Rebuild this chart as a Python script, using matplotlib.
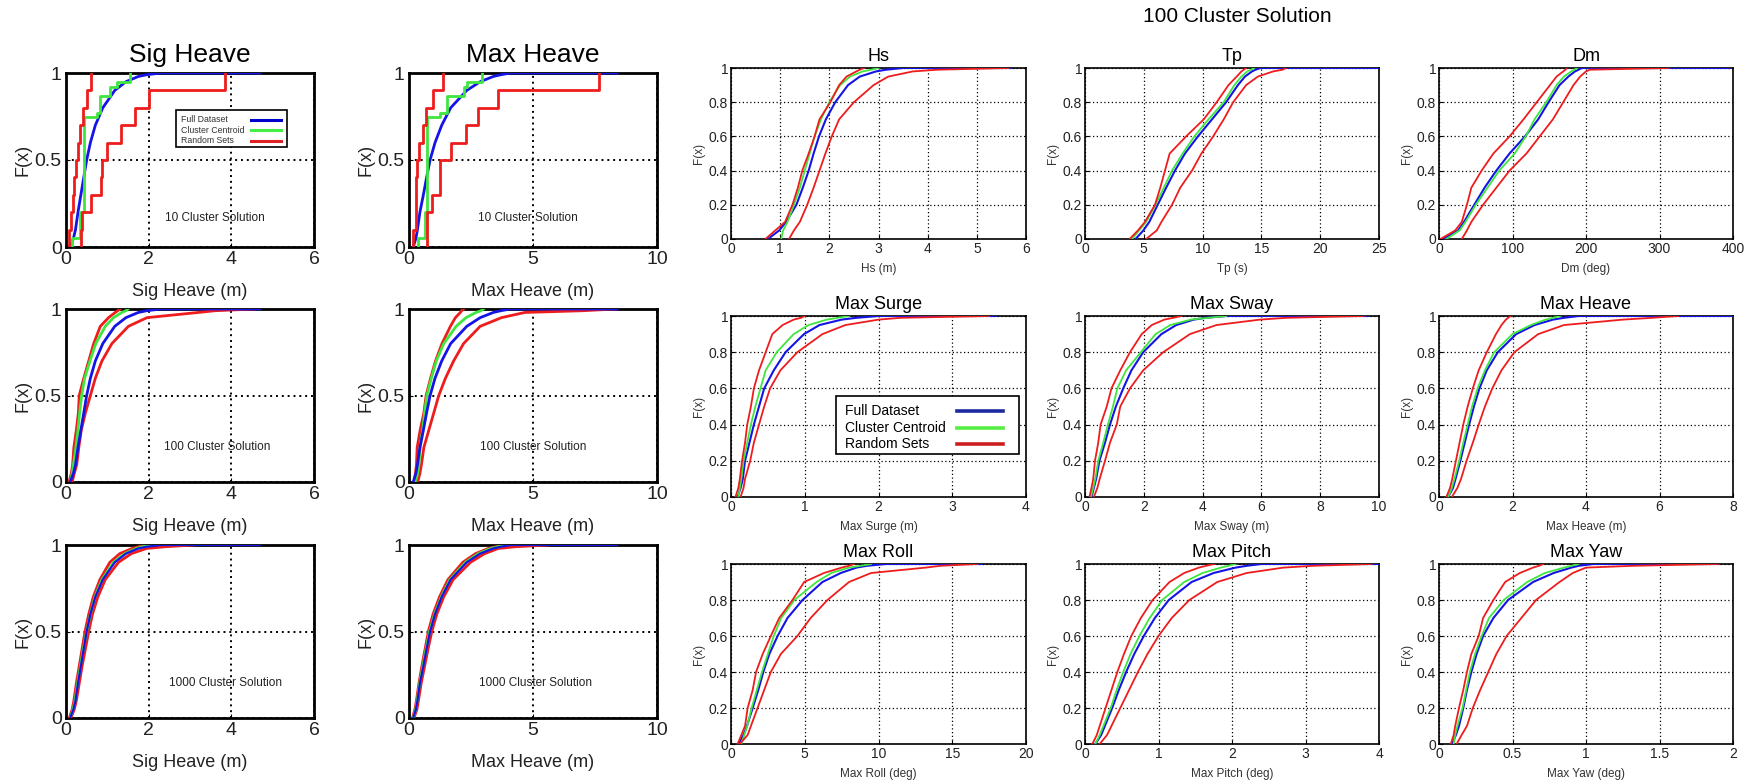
import matplotlib
matplotlib.use("Agg")
import matplotlib.pyplot as plt
from matplotlib.patches import Rectangle
from matplotlib.ticker import FuncFormatter

plt.rcParams['font.family'] = ['Liberation Sans', 'DejaVu Sans']

# cumulative probability levels at which each curve's x value was read
LEVELS = [0, .05, .1, .2, .3, .4, .5, .6, .7, .8, .9, .95, .98, .99, 1, 1]
LEGEND_LABELS = ['Full Dataset', 'Cluster Centroid', 'Random Sets']

# ---- left block: Sig Heave / Max Heave for 10, 100, 1000 clusters ----
sig_full = [0.1, 0.18, 0.23, 0.29, 0.36, 0.43, 0.5, 0.59, 0.71, 0.89, 1.18, 1.45, 1.75, 1.95, 2.3, 4.7]
mh_full = [0.17, 0.28, 0.34, 0.44, 0.58, 0.71, 0.85, 1.05, 1.32, 1.68, 2.33, 2.87, 3.4, 3.7, 4.1, 8.4]

# 10 clusters: step functions
RAND10_F = [0.1, 0.2, 0.3, 0.4, 0.5, 0.6, 0.7, 0.8, 0.9, 1.0]
CENT10_F = [0.05, 0.2, 0.75, 0.77, 0.87, 0.92, 0.95, 1.0]
sig10_cent = [0.145, 0.35, 0.44, 0.75, 0.83, 1.07, 1.23, 1.55]
sig10_rand_lo = [0.08, 0.12, 0.16, 0.2, 0.25, 0.3, 0.35, 0.41, 0.5, 0.6]
sig10_rand_hi = [0.37, 0.38, 0.6, 0.85, 0.87, 1.0, 1.33, 1.67, 2.01, 3.85]
mh10_cent = [0.38, 0.65, 0.74, 1.25, 1.52, 2.2, 2.33, 2.93]
mh10_rand_lo = [0.15, 0.28, 0.29, 0.3, 0.31, 0.42, 0.55, 0.69, 0.98, 1.39]
mh10_rand_hi = [0.74, 0.74, 0.92, 1.25, 1.25, 1.68, 2.3, 2.8, 3.6, 7.68]

# 100 clusters
sig100_cent = [0.1, 0.15, 0.18, 0.24, 0.29, 0.33, 0.38, 0.45, 0.58, 0.72, 0.95, 1.15, 1.35, 1.45, 1.5, 1.5]
sig100_rand_lo = [0.07, 0.13, 0.16, 0.19, 0.25, 0.3, 0.32, 0.43, 0.55, 0.67, 0.83, 1.03, 1.19, 1.25, 1.31, 1.31]
sig100_rand_hi = [0.15, 0.2, 0.26, 0.31, 0.37, 0.47, 0.59, 0.71, 0.87, 1.11, 1.51, 1.96, 3.2, 3.6, 4.57, 4.57]
mh100_cent = [0.25, 0.35, 0.4, 0.45, 0.55, 0.63, 0.72, 0.9, 1.1, 1.4, 1.9, 2.3, 2.7, 2.9, 3.0, 3.0]
mh100_rand_lo = [0.2, 0.26, 0.3, 0.33, 0.45, 0.6, 0.69, 0.87, 1.07, 1.33, 1.67, 1.87, 2.07, 2.12, 2.2, 2.2]
mh100_rand_hi = [0.35, 0.44, 0.5, 0.6, 0.8, 1.0, 1.2, 1.47, 1.8, 2.2, 2.87, 3.73, 4.67, 7.0, 8.33, 8.33]

# 1000 clusters
sig1000_cent = [0.1, 0.17, 0.22, 0.28, 0.35, 0.42, 0.5, 0.59, 0.7, 0.87, 1.15, 1.42, 1.7, 1.85, 2.1, 2.1]
sig1000_rand_lo = [0.08, 0.15, 0.19, 0.25, 0.32, 0.39, 0.46, 0.55, 0.66, 0.82, 1.06, 1.3, 1.6, 1.75, 1.9, 1.9]
sig1000_rand_hi = [0.12, 0.2, 0.25, 0.32, 0.39, 0.47, 0.55, 0.64, 0.77, 0.95, 1.27, 1.58, 1.95, 2.4, 3.1, 3.1]
mh1000_cent = [0.17, 0.27, 0.33, 0.43, 0.56, 0.69, 0.83, 1.03, 1.3, 1.65, 2.28, 2.8, 3.3, 3.6, 3.9, 3.9]
mh1000_rand_lo = [0.14, 0.24, 0.3, 0.4, 0.52, 0.65, 0.78, 0.97, 1.23, 1.57, 2.17, 2.68, 3.2, 3.5, 3.8, 3.8]
mh1000_rand_hi = [0.2, 0.32, 0.38, 0.49, 0.63, 0.77, 0.92, 1.12, 1.4, 1.78, 2.48, 3.05, 3.6, 4.3, 5.6, 5.6]

# ---- right block: 100 cluster solution, 9 variables ----
hs_full = [0.75, 0.98, 1.12, 1.33, 1.46, 1.58, 1.68, 1.79, 1.93, 2.12, 2.38, 2.62, 2.95, 3.15, 3.5, 5.7]
hs_cent = [1.02, 1.06, 1.15, 1.28, 1.4, 1.5, 1.6, 1.7, 1.83, 2.0, 2.22, 2.42, 2.68, 2.85, 3.0, 3.0]
hs_rand_lo = [0.7, 0.9, 1.1, 1.25, 1.36, 1.45, 1.58, 1.7, 1.8, 2.02, 2.2, 2.35, 2.55, 2.62, 2.7, 2.7]
hs_rand_hi = [1.18, 1.28, 1.4, 1.55, 1.68, 1.8, 1.92, 2.05, 2.2, 2.5, 2.9, 3.2, 3.7, 4.2, 5.65, 5.65]

tp_full = [4.3, 4.96, 5.47, 6.18, 6.9, 7.65, 8.5, 9.6, 10.8, 12.0, 13.0, 13.6, 14.2, 14.5, 14.9, 25.0]
tp_cent = [4.0, 4.6, 5.2, 6.0, 6.7, 7.4, 8.3, 9.3, 10.5, 11.8, 12.7, 13.3, 13.8, 14.1, 14.4, 14.4]
tp_rand_lo = [3.8, 4.5, 5.1, 5.95, 6.4, 6.8, 7.2, 8.6, 10.1, 11.2, 12.2, 12.9, 13.3, 13.5, 13.7, 13.7]
tp_rand_hi = [5.2, 6.1, 6.5, 7.4, 8.1, 9.1, 9.9, 10.9, 11.8, 12.6, 13.7, 14.7, 16.0, 16.8, 17.1, 17.1]

dm_full = [6, 26, 34, 48, 62, 78, 96, 117, 135, 149, 164, 176, 185, 190, 194, 395]
dm_cent = [10, 28, 36, 50, 66, 82, 103, 118, 130, 146, 160, 170, 180, 184, 188, 188]
dm_rand_lo = [2, 22, 31, 38, 44, 58, 74, 96, 115, 133, 151, 160, 169, 172, 174, 174]
dm_rand_hi = [31, 38, 44, 60, 78, 96, 119, 137, 155, 169, 183, 192, 200, 205, 313, 313]

su_full = [0.09, 0.13, 0.16, 0.19, 0.25, 0.31, 0.38, 0.45, 0.58, 0.74, 0.99, 1.2, 1.5, 1.7, 2.0, 3.6]
su_cent = [0.1, 0.12, 0.14, 0.17, 0.22, 0.27, 0.33, 0.4, 0.47, 0.62, 0.85, 1.05, 1.3, 1.45, 1.6, 1.6]
su_rand_lo = [0.06, 0.1, 0.12, 0.15, 0.19, 0.22, 0.27, 0.31, 0.38, 0.47, 0.56, 0.7, 0.85, 0.95, 1.0, 1.0]
su_rand_hi = [0.13, 0.17, 0.19, 0.26, 0.31, 0.38, 0.45, 0.53, 0.67, 0.9, 1.24, 1.55, 2.0, 2.3, 3.5, 3.5]

sw_full = [0.22, 0.3, 0.38, 0.49, 0.68, 0.85, 1.05, 1.3, 1.58, 1.98, 2.6, 3.1, 3.7, 4.1, 4.8, 9.6]
sw_cent = [0.2, 0.28, 0.35, 0.45, 0.62, 0.78, 0.95, 1.1, 1.4, 1.9, 2.4, 2.9, 3.6, 4.2, 4.8, 4.8]
sw_rand_lo = [0.15, 0.22, 0.28, 0.34, 0.45, 0.53, 0.74, 0.9, 1.2, 1.53, 1.93, 2.27, 2.7, 3.0, 3.28, 3.28]
sw_rand_hi = [0.3, 0.42, 0.5, 0.68, 0.85, 1.08, 1.2, 1.53, 1.98, 2.66, 3.57, 4.47, 5.95, 6.85, 9.48, 9.48]

hv_full = [0.25, 0.38, 0.45, 0.58, 0.7, 0.82, 0.95, 1.1, 1.3, 1.6, 2.1, 2.6, 3.1, 3.4, 3.8, 8.0]
hv_cent = [0.25, 0.35, 0.42, 0.55, 0.66, 0.78, 0.9, 1.05, 1.25, 1.5, 2.0, 2.5, 2.9, 3.1, 3.3, 3.3]
hv_rand_lo = [0.2, 0.3, 0.36, 0.46, 0.56, 0.66, 0.78, 0.92, 1.08, 1.3, 1.55, 1.7, 1.82, 1.88, 1.95, 1.95]
hv_rand_hi = [0.35, 0.5, 0.6, 0.75, 0.92, 1.08, 1.25, 1.45, 1.7, 2.05, 2.7, 3.4, 5.0, 5.8, 6.5, 6.5]

ro_full = [0.5, 0.85, 1.08, 1.47, 1.85, 2.19, 2.6, 3.16, 3.83, 4.85, 6.2, 7.44, 8.5, 9.2, 10.5, 17.0]
ro_cent = [0.7, 0.9, 1.1, 1.4, 1.75, 2.1, 2.5, 2.9, 3.4, 4.3, 5.8, 6.8, 8.0, 8.8, 9.5, 9.5]
ro_rand_lo = [0.45, 0.7, 0.95, 1.13, 1.47, 1.7, 2.15, 2.7, 3.27, 4.17, 4.96, 6.3, 7.5, 8.0, 8.35, 8.35]
ro_rand_hi = [0.6, 1.13, 1.35, 1.8, 2.25, 2.7, 3.38, 4.5, 5.4, 6.54, 8.0, 9.5, 13.2, 14.2, 16.7, 16.7]

pi_full = [0.14, 0.22, 0.27, 0.37, 0.46, 0.56, 0.67, 0.8, 0.95, 1.14, 1.45, 1.75, 2.05, 2.2, 2.4, 4.0]
pi_cent = [0.14, 0.2, 0.25, 0.35, 0.43, 0.52, 0.62, 0.74, 0.88, 1.05, 1.35, 1.6, 1.85, 1.95, 2.05, 2.05]
pi_rand_lo = [0.1, 0.16, 0.2, 0.28, 0.36, 0.44, 0.53, 0.63, 0.76, 0.92, 1.15, 1.35, 1.55, 1.65, 1.76, 1.76]
pi_rand_hi = [0.2, 0.3, 0.36, 0.48, 0.6, 0.72, 0.85, 1.0, 1.18, 1.42, 1.8, 2.2, 2.7, 3.1, 3.9, 3.9]

ya_full = [0.09, 0.115, 0.136, 0.165, 0.19, 0.22, 0.256, 0.3, 0.37, 0.47, 0.64, 0.78, 0.9, 0.95, 1.05, 1.9]
ya_cent = [0.1, 0.11, 0.125, 0.16, 0.185, 0.21, 0.245, 0.29, 0.34, 0.44, 0.6, 0.72, 0.85, 0.9, 0.95, 0.95]
ya_rand_lo = [0.08, 0.1, 0.11, 0.136, 0.165, 0.19, 0.22, 0.27, 0.3, 0.37, 0.45, 0.55, 0.64, 0.68, 0.71, 0.71]
ya_rand_hi = [0.12, 0.154, 0.19, 0.23, 0.28, 0.335, 0.39, 0.46, 0.56, 0.66, 0.82, 0.91, 1.0, 1.32, 1.9, 1.9]

BLUE = '#1414e6'
GREEN = '#3ee63e'
RED = '#ee1c1c'
W, H = 1754, 782

fig = plt.figure(figsize=(W / 100, H / 100), dpi=100)
fmt = FuncFormatter(lambda v, p: '%g' % v)


def add_ax(l, t, r, b):
    return fig.add_axes([l / W, 1 - b / H, (r - l) / W, (b - t) / H])


def style(ax, xmax, xticks, yticks, big):
    ax.set_xlim(0, xmax)
    ax.set_ylim(0, 1)
    ax.set_xticks(xticks)
    ax.set_yticks(yticks)
    ax.xaxis.set_major_formatter(fmt)
    ax.yaxis.set_major_formatter(fmt)
    ax.grid(True, color='black', linestyle=(0, (1, 2)), linewidth=1.4 if big else 0.9)
    for s in ax.spines.values():
        s.set_linewidth(2.0 if big else 1.2)
    ax.tick_params(direction='in', length=3, labelsize=14 if big else 10,
                   labelcolor='#222222', pad=3 if big else 2)


def legend_box(ax, box, text_x, ys, line_x, fs, lw, colors, tcolor):
    # MATLAB-style legend: labels on the left, line samples on the right
    ax.add_patch(Rectangle((box[0], box[1]), box[2] - box[0], box[3] - box[1],
                           transform=ax.transAxes, facecolor='white',
                           edgecolor='black', lw=1.2, zorder=6))
    for y, lab, col in zip(ys, LEGEND_LABELS, colors):
        ax.text(text_x, y, lab, transform=ax.transAxes, fontsize=fs, color=tcolor,
                ha='left', va='center', zorder=7)
        ax.plot(line_x, [y, y], transform=ax.transAxes, color=col, lw=lw, zorder=7)


# ---------------- left block ----------------
LEFT_COLS = [(66, 314), (409, 657)]
LEFT_ROWS = [(73, 247), (309, 482), (545, 718)]

left_data = [
    ('Sig Heave', 6, [0, 2, 4, 6], sig_full,
     [(sig10_cent, sig10_rand_lo, sig10_rand_hi),
      (sig100_cent, sig100_rand_lo, sig100_rand_hi),
      (sig1000_cent, sig1000_rand_lo, sig1000_rand_hi)], [0.6, 0.61, 0.645]),
    ('Max Heave', 10, [0, 5, 10], mh_full,
     [(mh10_cent, mh10_rand_lo, mh10_rand_hi),
      (mh100_cent, mh100_rand_lo, mh100_rand_hi),
      (mh1000_cent, mh1000_rand_lo, mh1000_rand_hi)], [0.48, 0.5, 0.51]),
]
sol_names = ['10 Cluster Solution', '100 Cluster Solution', '1000 Cluster Solution']

for c, (name, xmax, xt, full, rows, tx) in enumerate(left_data):
    for r in range(3):
        l, rr = LEFT_COLS[c]
        t, b = LEFT_ROWS[r]
        ax = add_ax(l, t, rr, b)
        cent, lo, hi = rows[r]
        if r == 0:
            ax.plot(full, LEVELS, color=BLUE, lw=2.0, zorder=3)
            ax.plot([cent[0]] + cent, [0] + CENT10_F, color=GREEN, lw=2.0,
                    drawstyle='steps-post', zorder=3)
            for s in (lo, hi):
                ax.plot([s[0]] + s, [0] + RAND10_F, color=RED, lw=2.0,
                        drawstyle='steps-post', zorder=3)
        else:
            ax.plot(lo, LEVELS, color=RED, lw=2.0, zorder=3)
            ax.plot(hi, LEVELS, color=RED, lw=2.0, zorder=3)
            ax.plot(cent, LEVELS, color=GREEN, lw=2.0, zorder=3)
            ax.plot(full, LEVELS, color=BLUE, lw=2.0 if r == 1 else 1.6, zorder=3)
        style(ax, xmax, xt, [0, 0.5, 1], True)
        ax.set_xlabel(name + ' (m)', fontsize=13, color='#222222', labelpad=11)
        ax.set_ylabel('F(x)', fontsize=13, color='#222222', labelpad=2)
        ax.text(tx[r], 0.2 if r else 0.167, sol_names[r],
                transform=ax.transAxes, ha='center', va='center', fontsize=8.5, color='#222222')
        if r == 0:
            ax.set_title(name, fontsize=19, pad=8)
        if r == 0 and c == 0:
            legend_box(ax, (0.444, 0.575, 0.89, 0.787), 0.462, [0.73, 0.672, 0.612],
                       [0.746, 0.866], 6.3, 2.2, ['#0000cc', '#44ee44', '#dd2222'], '#333333')

# ---------------- right block ----------------
RIGHT_COLS = [(731, 1026), (1085, 1379), (1439, 1733)]
RIGHT_ROWS = [(68, 239), (316, 497), (564, 744)]

right_data = [
    ('Hs', 'Hs (m)', 6, [0, 1, 2, 3, 4, 5, 6], hs_full, hs_cent, hs_rand_lo, hs_rand_hi),
    ('Tp', 'Tp (s)', 25, [0, 5, 10, 15, 20, 25], tp_full, tp_cent, tp_rand_lo, tp_rand_hi),
    ('Dm', 'Dm (deg)', 400, [0, 100, 200, 300, 400], dm_full, dm_cent, dm_rand_lo, dm_rand_hi),
    ('Max Surge', 'Max Surge (m)', 4, [0, 1, 2, 3, 4], su_full, su_cent, su_rand_lo, su_rand_hi),
    ('Max Sway', 'Max Sway (m)', 10, [0, 2, 4, 6, 8, 10], sw_full, sw_cent, sw_rand_lo, sw_rand_hi),
    ('Max Heave', 'Max Heave (m)', 8, [0, 2, 4, 6, 8], hv_full, hv_cent, hv_rand_lo, hv_rand_hi),
    ('Max Roll', 'Max Roll (deg)', 20, [0, 5, 10, 15, 20], ro_full, ro_cent, ro_rand_lo, ro_rand_hi),
    ('Max Pitch', 'Max Pitch (deg)', 4, [0, 1, 2, 3, 4], pi_full, pi_cent, pi_rand_lo, pi_rand_hi),
    ('Max Yaw', 'Max Yaw (deg)', 2, [0, 0.5, 1, 1.5, 2], ya_full, ya_cent, ya_rand_lo, ya_rand_hi),
]

for i, (title, xlab, xmax, xt, full, cent, lo, hi) in enumerate(right_data):
    r, c = divmod(i, 3)
    l, rr = RIGHT_COLS[c]
    t, b = RIGHT_ROWS[r]
    ax = add_ax(l, t, rr, b)
    ax.plot(full, LEVELS, color=BLUE, lw=1.5, zorder=3)
    ax.plot(cent, LEVELS, color=GREEN, lw=1.3, zorder=3)
    ax.plot(lo, LEVELS, color=RED, lw=1.3, zorder=3)
    ax.plot(hi, LEVELS, color=RED, lw=1.3, zorder=3)
    style(ax, xmax, xt, [0, 0.2, 0.4, 0.6, 0.8, 1], False)
    ax.set_title(title, fontsize=13, pad=5)
    ax.set_xlabel(xlab, fontsize=8.5, color='#333333', labelpad=5)
    ax.set_ylabel('F(x)', fontsize=8.5, color='#333333', labelpad=3)
    if i == 3:
        legend_box(ax, (0.356, 0.238, 0.975, 0.558), 0.386, [0.475, 0.381, 0.293],
                   [0.766, 0.922], 10, 2.6, ['#1c2aa0', '#55ee44', '#cc2020'], 'black')

fig.text(1237 / W, 1 - 16 / H, '100 Cluster Solution', ha='center', va='center', fontsize=15)

fig.savefig('out.png', dpi=100)
